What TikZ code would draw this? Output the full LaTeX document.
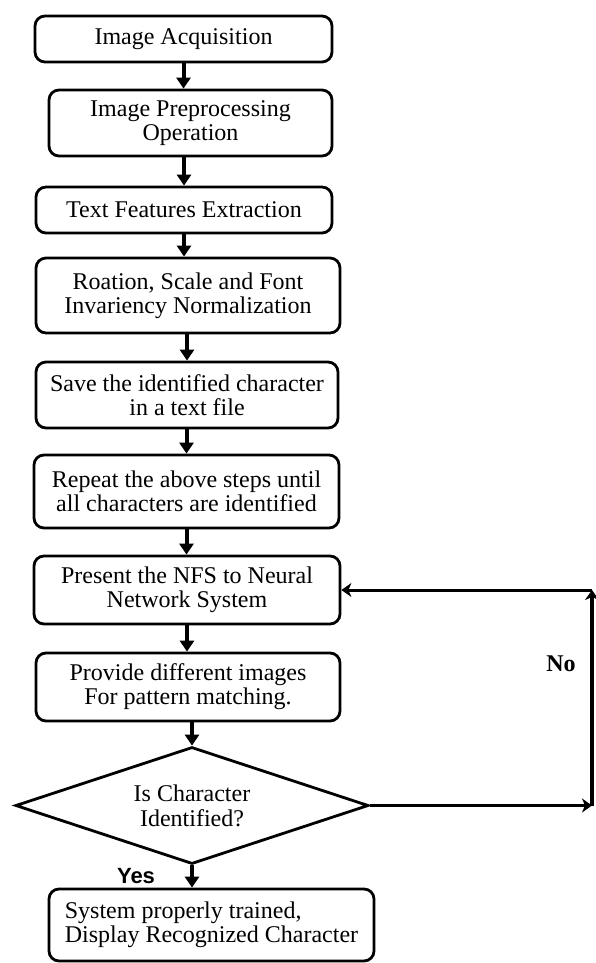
\documentclass[tikz,border=0pt]{standalone}
\usepackage{fontspec}
\setmainfont{Liberation Serif}
\newfontfamily\yesfont{Liberation Sans}
\usetikzlibrary{shapes.geometric,arrows.meta}
\begin{document}
\begin{tikzpicture}[x=1pt,y=-1pt,
  stepbox/.style={draw,line width=2.8pt,rounded corners=10pt,align=center,
    font=\fontsize{24}{24}\selectfont,inner sep=0pt},
  decision/.style={draw,shape=diamond,aspect=3,line width=2.8pt,align=center,
    font=\fontsize{24}{25}\selectfont,inner sep=0pt},
  flow/.style={line width=4pt,-{Triangle[width=14pt,length=11pt]}},
  back/.style={line width=3pt,-{Stealth[width=14pt,length=10pt,inset=3pt]}},
  lbl/.style={inner sep=0pt}]
\useasboundingbox (0,0) rectangle (595,963);
\node[stepbox,minimum width=297pt,minimum height=46pt] (b1) at (183.5,39) {Image Acquisition};
\node[stepbox,minimum width=283pt,minimum height=66pt] (b2) at (190.5,123) {Image Preprocessing\\Operation};
\node[stepbox,minimum width=296pt,minimum height=46pt] (b3) at (184,210) {Text Features Extraction};
\node[stepbox,minimum width=304pt,minimum height=75pt] (b4) at (188,295.5) {Roation, Scale and Font\\Invariency Normalization};
\node[stepbox,minimum width=302pt,minimum height=66pt] (b5) at (187,395) {Save the identified character\\in a text file};
\node[stepbox,minimum width=305pt,minimum height=73pt] (b6) at (186.5,491.5) {Repeat the above steps until\\all characters are identified};
\node[stepbox,minimum width=306pt,minimum height=68pt] (b7) at (187,590) {Present the NFS to Neural\\Network System};
\node[stepbox,minimum width=304pt,minimum height=68pt] (b8) at (188,687) {Provide different images\\For pattern matching.};
\node[decision,minimum width=353pt,minimum height=117pt] (d) at (192,805.5) {Is Character\\Identified?};
\node[stepbox,align=left,minimum width=325pt,minimum height=72pt] (b9) at (211.5,925) {System properly trained,\\Display Recognized Character};
\node[lbl,font=\yesfont\bfseries\fontsize{22}{22}\selectfont] (yes) at (136,876) {Yes};
\node[lbl,font=\bfseries\fontsize{24}{24}\selectfont] (no) at (561,664) {No};
\coordinate (c1) at (592,805.5);
\coordinate (c2) at (592,590);
\draw[flow] (b1.south) -- (b1.south |- b2.north);
\draw[flow] (b3.north |- b2.south) -- (b3.north);
\draw[flow] (b3.south) -- (b3.south |- b4.north);
\draw[flow] (b5.north |- b4.south) -- (b5.north);
\draw[flow] (b6.north |- b5.south) -- (b6.north);
\draw[flow] (b6.south) -- (b6.south |- b7.north);
\draw[flow] (b7.south) -- (b7.south |- b8.north);
\draw[flow] (b8.south -| d.north) -- (d.north);
\draw[flow] (d.south) -- (d.south |- b9.north);
\draw[back] (d.east) -- (c1);
\draw[back,line width=3.6pt] (c1) -- (c2);
\draw[back] (c2) -- (b7.east);
\end{tikzpicture}
\end{document}
